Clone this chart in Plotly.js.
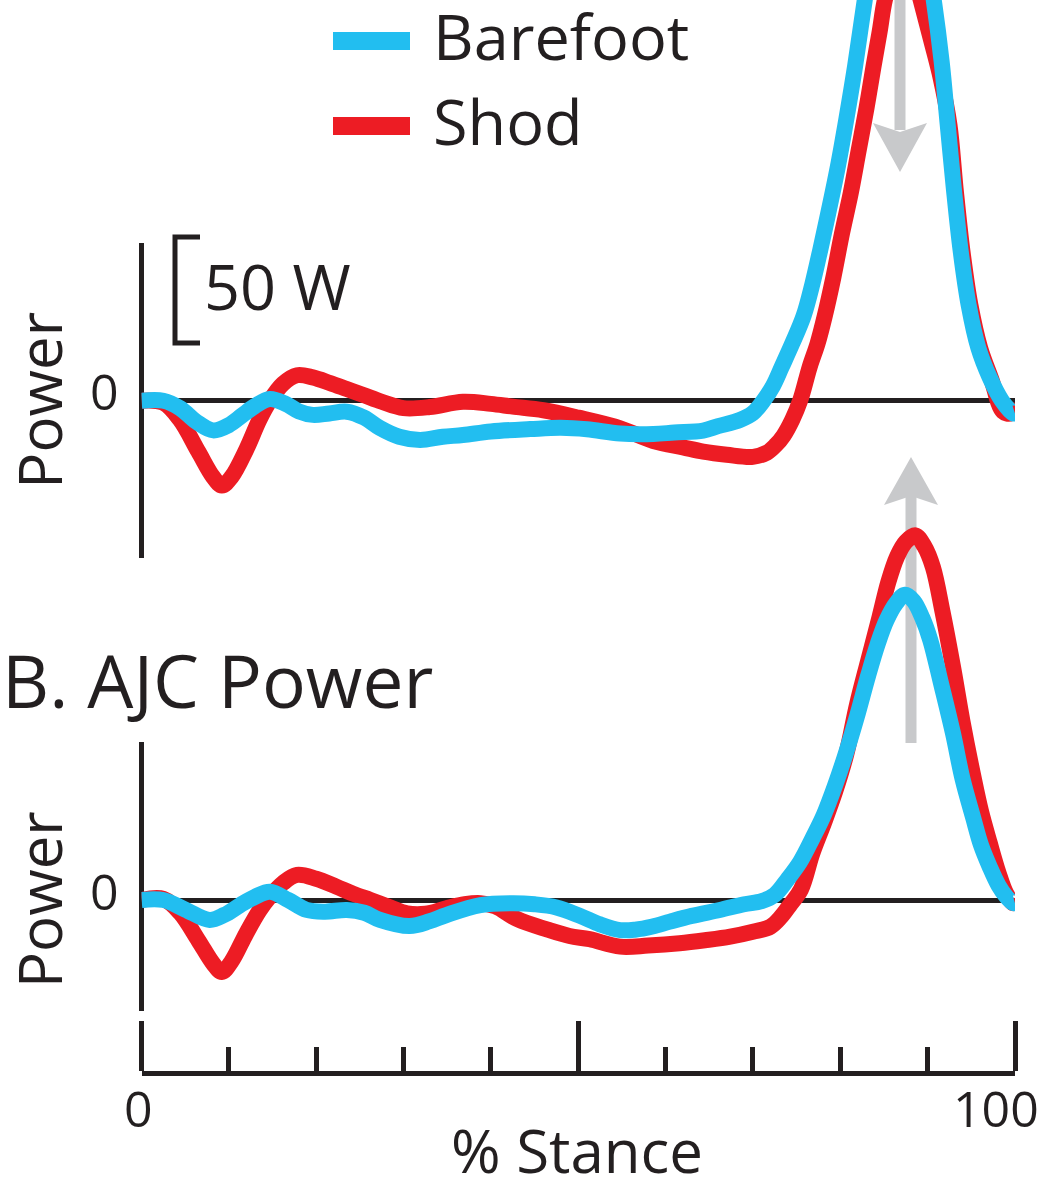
<!DOCTYPE html>
<html>
<head>
<meta charset="utf-8">
<script src="https://cdn.plot.ly/plotly-3.0.1.min.js"></script>
<style>
html,body{margin:0;padding:0;background:#ffffff;}
#chart{width:1044px;height:1182px;}
</style>
</head>
<body>
<div id="chart"></div>
<script>
// ---------------- DATA ----------------
// Top panel (power, W) vs % stance
const topBarefootX = [0, 2.5, 4.4, 6.3, 8.2, 10, 11.5, 13, 14.7, 16.5, 18, 19.6, 21.5, 23.5, 25.5, 27.3, 29.5, 31.9, 34.5, 36.8, 40, 44.5, 48, 51, 54.8, 58.6, 61, 64.3, 66, 68.5, 70, 71.2, 72.3, 73.3, 74.5, 75.8, 76.8, 77.7, 78.7, 79.7, 80.7, 81.7, 82.8, 83.8, 84.8, 85.8, 86.7, 87.6, 88.6, 89.6, 90.7, 91.6, 92.3, 93.0, 93.8, 94.7, 95.8, 97.1, 98.5, 99.8, 100];
const topBarefootY = [0, 0, -3.5, -10, -14, -11.5, -7, -2.5, 0.8, -1.5, -5, -6.7, -6, -5.2, -8, -12.9, -17, -18.5, -17, -16.2, -14.5, -13.4, -12.8, -13.5, -15.5, -15.7, -15, -14.1, -12, -9.1, -5.8, 0, 7, 16, 27, 40, 55, 71, 90, 110, 133, 158, 189, 215, 235, 246, 250, 247, 236, 217, 189, 160, 130, 100, 70, 45, 25, 11, 0, -6, -6];

const topShodX = [0, 2.5, 4.4, 6.5, 8.2, 9.2, 10.3, 12, 13.5, 14.7, 16.2, 17.8, 19.6, 21.6, 23.5, 25.4, 27.5, 30, 33, 36.8, 40, 42.5, 46, 50, 54.8, 58.6, 62, 64.3, 67, 70, 71.6, 72.6, 73.5, 74.5, 75.4, 76.5, 77.4, 78.2, 79.2, 80.2, 81.2, 82.1, 83, 83.8, 84.5, 85.1, 86.1, 87.1, 88.2, 89.2, 90.4, 91.5, 92.5, 93.2, 94.0, 94.9, 96.0, 97.3, 98.6, 99.5, 100];
const topShodY = [0, -1, -9, -24, -36, -40, -36, -23, -9, 0, 8, 12, 11, 8.3, 5.5, 2.7, -0.5, -3.5, -3, -0.5, -1.5, -2.8, -4.5, -8, -13, -19, -22, -24, -25.5, -26.5, -24.5, -21, -16.5, -9, 0, 16, 27, 39.6, 58, 79, 98, 118, 138, 157.6, 174, 189, 203, 210, 204, 189, 170, 152, 130, 100, 70, 45, 25, 10, -5, -6, -1];

// Bottom panel "B. AJC Power"
const botBarefootX = [0, 2.5, 5, 7.8, 9.5, 11.3, 13, 14.7, 16.8, 18.9, 21, 23.5, 25.5, 27.3, 30.7, 33, 34.9, 38.8, 42.5, 45, 47.5, 50.2, 52.5, 54.8, 56.5, 58.5, 60.5, 63, 66.2, 69, 71, 72.5, 74, 75.4, 76.8, 78.1, 79.4, 80.7, 81.9, 83.2, 84.3, 85.3, 86.4, 87.4, 88.4, 89.4, 90.3, 91.6, 92.9, 94.0, 95.2, 96.1, 97.1, 98.1, 99, 99.8, 100];
const botBarefootY = [0, 0, -4.5, -9.4, -7, -2.4, 1.5, 3.9, 0, -4.7, -5.5, -4.7, -6, -9.4, -12.3, -10, -7.1, -2.4, -1.5, -2, -3.5, -7.5, -11.5, -14.2, -14, -12.5, -10.2, -7.5, -4.7, -2, -0.5, 2.5, 10, 18, 29, 40, 54, 70, 86.5, 106, 121, 132, 140, 144, 141, 133, 122.6, 101, 78.6, 57, 39, 26, 15.7, 7, 1.6, -1.5, -1.5];

const botShodX = [0, 2.5, 4.4, 6.5, 8.2, 9.2, 10.3, 12, 13.5, 14.7, 16.2, 17.8, 20, 22.3, 24.2, 26.2, 28.5, 30.4, 32.5, 34.9, 37, 38.8, 40.5, 43, 46.5, 49, 51.3, 54.8, 58, 61.6, 64.5, 67.4, 70, 72, 73.2, 74.3, 75.5, 76.8, 78.1, 79.4, 80.7, 81.9, 83.2, 84.5, 85.5, 86.5, 87.5, 88.6, 89.6, 90.6, 91.7, 92.9, 94.0, 95.2, 96.1, 97.1, 98.1, 99, 99.8, 100];
const botShodY = [0, 0.5, -6, -19, -30, -34, -29, -15.7, -5, 1.6, 8, 11.8, 10, 6.3, 3, 0, -3.5, -6.3, -6.5, -3.9, -2, -1.5, -3, -9, -14, -17, -18.5, -22, -21.5, -20.4, -19, -17.3, -15, -12.6, -8, -2, 5, 22, 36, 51, 69, 92, 113, 133.6, 150, 162, 169, 172, 167, 157, 136, 110, 84, 59, 42, 27, 13, 3, -1.5, 1];

const seriesNames = ['Barefoot', 'Shod'];
const majorTicks = [0, 50, 100];
const majorTickText = ['0', '', '100'];
const minorTicks = [10, 20, 30, 40, 60, 70, 80, 90];
const yTickVals = [0];
const yTickText = ['0'];
const scaleBarW = 50;        // scale bar size (W)
const scaleBarLabel = '50 W';
const panelBTitle = 'B. AJC Power';
const yTitle = 'Power';
const xTitle = '% Stance';

// ---------------- GEOMETRY / STYLE ----------------
const W = 1044, H = 1182;
const INK = '#231f20', CYAN = '#22bef0', RED = '#ed1c24', GREY = '#c8c9cb';
const FONT = '"Open Sans", "Noto Sans", sans-serif';
const PX_PER_W = 2.12;
const X0 = 141.5, X1 = 1015;
const TOP = {zero: 400.7, top: 0, bot: 560};
const BOT = {zero: 900, top: 440, bot: 1015};
const fx = p => p / W;
const fy = p => 1 - p / H;
const xv = p => (p - X0) / (X1 - X0) * 100;          // px -> % stance
const yv = (panel, p) => (panel.zero - p) / PX_PER_W;  // px -> W
const yrange = panel => [yv(panel, panel.bot), yv(panel, panel.top)];

const LW = 16;
function line(x, y, color, yaxis, name) {
  return {type: 'scatter', mode: 'lines', x: x, y: y, xaxis: 'x', yaxis: yaxis, name: name,
    line: {color: color, width: LW, shape: 'spline', smoothing: 1}, hoverinfo: 'skip', showlegend: false};
}
const data = [
  line(topShodX, topShodY, RED, 'y', seriesNames[1]),
  line(topBarefootX, topBarefootY, CYAN, 'y', seriesNames[0]),
  line(botShodX, botShodY, RED, 'y2', seriesNames[1]),
  line(botBarefootX, botBarefootY, CYAN, 'y2', seriesNames[0])
];

const yBase = {
  showgrid: false, zeroline: true, zerolinecolor: INK, zerolinewidth: 5,
  showline: false, ticks: '', tickmode: 'array', tickvals: yTickVals, ticktext: yTickText,
  tickfont: {family: FONT, size: 50, color: INK}, ticklabelstandoff: 22, ticklabelshift: -8, fixedrange: true
};

const shapes = [];
// y-axis spines (partial)
shapes.push({type: 'line', layer: 'below', xref: 'paper', yref: 'paper', x0: fx(X0), x1: fx(X0), y0: fy(558), y1: fy(243), line: {color: INK, width: 5}});
shapes.push({type: 'line', layer: 'below', xref: 'paper', yref: 'paper', x0: fx(X0), x1: fx(X0), y0: fy(1011), y1: fy(742), line: {color: INK, width: 5}});
// scale bar (50 W)
const sbBase = yv(TOP, 343), sbX = xv(175), sbEnd = xv(200);
shapes.push({type: 'path', xref: 'x', yref: 'y', layer: 'above',
  path: `M${sbEnd},${sbBase + scaleBarW} L${sbX},${sbBase + scaleBarW} L${sbX},${sbBase} L${sbEnd},${sbBase}`,
  line: {color: INK, width: 5}});
// grey arrows
function arrow(yref, panel, xc, shaftFromPx, shaftToPx, wingPx, notchPx, tipPx, halfW) {
  const xcV = xv(xc), xl = xv(xc - halfW), xr = xv(xc + halfW);
  shapes.push({type: 'line', layer: 'below', xref: 'x', yref: yref, x0: xcV, x1: xcV,
    y0: yv(panel, shaftFromPx), y1: yv(panel, shaftToPx), line: {color: GREY, width: 11}});
  shapes.push({type: 'path', layer: 'below', xref: 'x', yref: yref, fillcolor: GREY, line: {width: 0},
    path: `M${xl},${yv(panel, wingPx)} L${xcV},${yv(panel, tipPx)} L${xr},${yv(panel, wingPx)} L${xcV},${yv(panel, notchPx)} Z`});
}
arrow('y', TOP, 900, -20, 130, 123, 132, 172, 27);
arrow('y2', BOT, 911, 743, 495, 505, 496, 457, 27);
// legend swatches
shapes.push({type: 'line', xref: 'paper', yref: 'paper', x0: fx(333), x1: fx(410), y0: fy(41), y1: fy(41), line: {color: CYAN, width: 18}});
shapes.push({type: 'line', xref: 'paper', yref: 'paper', x0: fx(333), x1: fx(410), y0: fy(126), y1: fy(126), line: {color: RED, width: 18}});

const ann = (o) => Object.assign({showarrow: false, xref: 'paper', yref: 'paper', font: {family: FONT, color: INK}}, o);
const annotations = [
  ann({text: seriesNames[0], x: fx(431), y: fy(35), xanchor: 'left', yanchor: 'middle', height: 62, font: {family: FONT, color: INK, size: 63}}),
  ann({text: seriesNames[1], x: fx(431), y: fy(120), xanchor: 'left', yanchor: 'middle', height: 62, font: {family: FONT, color: INK, size: 63}}),
  ann({text: scaleBarLabel, x: fx(202), y: fy(285), xanchor: 'left', yanchor: 'middle', font: {family: FONT, color: INK, size: 63}}),
  ann({text: panelBTitle, x: fx(0), y: fy(679), xanchor: 'left', yanchor: 'middle', font: {family: FONT, color: INK, size: 73}}),
  ann({text: yTitle, x: fx(39), y: 0, yref: 'y', xanchor: 'center', yanchor: 'middle', textangle: -90, height: 64, font: {family: FONT, color: INK, size: 60}}),
  ann({text: yTitle, x: fx(39), y: 0, yref: 'y2', xanchor: 'center', yanchor: 'middle', textangle: -90, height: 64, font: {family: FONT, color: INK, size: 60}}),
  ann({text: majorTickText[0], x: fx(138.5), y: fy(1108), xanchor: 'center', yanchor: 'middle', font: {family: FONT, color: INK, size: 50}}),
  ann({text: majorTickText[2], x: fx(995.5), y: fy(1108), xanchor: 'center', yanchor: 'middle', font: {family: FONT, color: INK, size: 50}}),
  ann({text: xTitle, x: fx(577), y: fy(1150), xanchor: 'center', yanchor: 'middle', height: 60, font: {family: FONT, color: INK, size: 60}})
];

const layout = {
  width: W, height: H, margin: {l: 0, r: 0, t: 0, b: 0},
  paper_bgcolor: '#ffffff', plot_bgcolor: 'rgba(0,0,0,0)', showlegend: false,
  font: {family: FONT, color: INK},
  xaxis: {
    domain: [fx(X0), fx(X1)], range: [0, 100], anchor: 'free', position: fy(1073), side: 'top',
    showgrid: false, zeroline: false, showline: true, linecolor: INK, linewidth: 5,
    tickmode: 'array', tickvals: majorTicks, ticktext: majorTickText, showticklabels: false,
    ticks: 'outside', ticklen: 50, tickwidth: 5, tickcolor: INK,
    minor: {tickmode: 'array', tickvals: minorTicks, ticks: 'outside', ticklen: 24, tickwidth: 5, tickcolor: INK, showgrid: false},
    fixedrange: true
  },
  yaxis: Object.assign({}, yBase, {domain: [fy(TOP.bot), fy(TOP.top)], range: yrange(TOP), anchor: 'x'}),
  yaxis2: Object.assign({}, yBase, {domain: [fy(BOT.bot), fy(BOT.top)], range: yrange(BOT), anchor: 'x'}),
  shapes: shapes,
  annotations: annotations
};

Plotly.newPlot('chart', data, layout, {displayModeBar: false, staticPlot: true});
</script>
</body>
</html>
